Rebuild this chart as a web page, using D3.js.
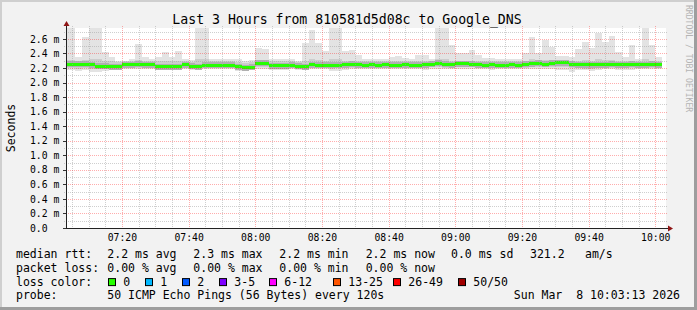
<!DOCTYPE html>
<html><head><meta charset="utf-8">
<script src="https://cdn.jsdelivr.net/npm/d3@7"></script>
<style>
html,body{margin:0;padding:0;background:#f2f2f2;}
svg{display:block;}
text{font-family:"DejaVu Sans Mono",monospace;fill:#000;}
</style>
</head><body>
<svg id="chart" width="697" height="310"></svg>
<script>
// ---------- data ----------
const title = "Last 3 Hours from 810581d5d08c to Google_DNS";
const yAxisTitle = "Seconds";
const watermark = "RRDTOOL / TOBI OETIKER";
const windowStart = "2026-03-08T07:03:13Z";
const windowEnd = "2026-03-08T10:03:13Z";
const firstStep = "2026-03-08T07:02:00Z";
const stepSeconds = 120;

const yTickValues = [0, 0.2, 0.4, 0.6, 0.8, 1.0, 1.2, 1.4, 1.6, 1.8, 2.0, 2.2, 2.4, 2.6];
const yTickLabels = ["0.0", "0.2 m", "0.4 m", "0.6 m", "0.8 m", "1.0 m", "1.2 m", "1.4 m", "1.6 m", "1.8 m", "2.0 m", "2.2 m", "2.4 m", "2.6 m"];
const xTickLabels = ["07:20", "07:40", "08:00", "08:20", "08:40", "09:00", "09:20", "09:40", "10:00"];

// ping RTT per 2-minute step, in ms
const pingMax = [
  2.90, 2.90, 2.35, 2.62, 2.90, 2.90, 2.42, 2.35, 2.30, 2.30,
  2.33, 2.53, 2.35, 2.32, 2.35, 2.42, 2.35, 2.43, 2.32, 2.31,
  2.90, 2.90, 2.32, 2.33, 2.33, 2.33, 2.32, 2.29, 2.31, 2.47,
  2.46, 2.33, 2.32, 2.33, 2.32, 2.29, 2.55, 2.72, 2.55, 2.43,
  2.90, 2.90, 2.43, 2.45, 2.38, 2.32, 2.32, 2.32, 2.32, 2.35,
  2.36, 2.34, 2.32, 2.38, 2.38, 2.32, 2.90, 2.90, 2.52, 2.41,
  2.41, 2.45, 2.38, 2.34, 2.34, 2.32, 2.32, 2.32, 2.32, 2.40,
  2.62, 2.40, 2.58, 2.49, 2.37, 2.37, 2.35, 2.46, 2.56, 2.47,
  2.68, 2.56, 2.64, 2.42, 2.35, 2.52, 2.33, 2.78, 2.52, 2.35
];
const pingHigh = [
  2.31, 2.31, 2.29, 2.31, 2.33, 2.33, 2.30, 2.29, 2.28, 2.29,
  2.29, 2.31, 2.29, 2.29, 2.29, 2.30, 2.29, 2.30, 2.29, 2.28,
  2.33, 2.32, 2.29, 2.29, 2.29, 2.29, 2.28, 2.27, 2.28, 2.31,
  2.31, 2.29, 2.29, 2.29, 2.29, 2.28, 2.30, 2.32, 2.31, 2.30,
  2.33, 2.32, 2.30, 2.30, 2.29, 2.29, 2.29, 2.29, 2.29, 2.29,
  2.29, 2.29, 2.29, 2.30, 2.30, 2.29, 2.33, 2.32, 2.30, 2.30,
  2.30, 2.30, 2.29, 2.29, 2.29, 2.29, 2.29, 2.29, 2.29, 2.30,
  2.32, 2.30, 2.31, 2.31, 2.30, 2.30, 2.29, 2.30, 2.31, 2.30,
  2.32, 2.31, 2.31, 2.30, 2.29, 2.30, 2.29, 2.32, 2.30, 2.29
];
const pingLow = [
  2.20, 2.20, 2.19, 2.20, 2.18, 2.18, 2.19, 2.19, 2.19, 2.20,
  2.20, 2.20, 2.20, 2.20, 2.19, 2.19, 2.19, 2.19, 2.20, 2.19,
  2.19, 2.20, 2.20, 2.20, 2.20, 2.20, 2.19, 2.18, 2.19, 2.21,
  2.21, 2.19, 2.19, 2.19, 2.20, 2.19, 2.19, 2.20, 2.20, 2.20,
  2.19, 2.20, 2.20, 2.20, 2.20, 2.20, 2.20, 2.20, 2.20, 2.20,
  2.20, 2.20, 2.20, 2.20, 2.20, 2.21, 2.21, 2.20, 2.20, 2.21,
  2.21, 2.21, 2.20, 2.20, 2.20, 2.20, 2.20, 2.20, 2.20, 2.20,
  2.21, 2.21, 2.21, 2.21, 2.21, 2.21, 2.20, 2.20, 2.19, 2.19,
  2.20, 2.20, 2.20, 2.20, 2.20, 2.20, 2.20, 2.20, 2.20, 2.20
];
const pingMin = [
  2.17, 2.17, 2.16, 2.17, 2.14, 2.14, 2.16, 2.17, 2.17, 2.18,
  2.18, 2.18, 2.18, 2.18, 2.17, 2.17, 2.17, 2.17, 2.18, 2.17,
  2.17, 2.18, 2.18, 2.18, 2.18, 2.18, 2.16, 2.16, 2.17, 2.18,
  2.18, 2.17, 2.17, 2.17, 2.18, 2.17, 2.17, 2.18, 2.18, 2.18,
  2.16, 2.16, 2.17, 2.18, 2.18, 2.18, 2.18, 2.18, 2.18, 2.18,
  2.18, 2.18, 2.18, 2.18, 2.17, 2.18, 2.18, 2.18, 2.18, 2.18,
  2.18, 2.18, 2.18, 2.18, 2.17, 2.18, 2.18, 2.18, 2.18, 2.18,
  2.18, 2.18, 2.18, 2.18, 2.17, 2.17, 2.15, 2.17, 2.17, 2.16,
  2.17, 2.18, 2.18, 2.17, 2.17, 2.17, 2.18, 2.18, 2.18, 2.18
];
const pingMedian = [
  2.250, 2.250, 2.250, 2.250, 2.245, 2.225, 2.225, 2.215, 2.215, 2.245,
  2.245, 2.250, 2.245, 2.245, 2.220, 2.220, 2.220, 2.220, 2.245, 2.225,
  2.220, 2.240, 2.240, 2.240, 2.240, 2.235, 2.215, 2.205, 2.210, 2.265,
  2.265, 2.230, 2.230, 2.230, 2.240, 2.225, 2.220, 2.245, 2.240, 2.240,
  2.235, 2.240, 2.245, 2.250, 2.245, 2.240, 2.245, 2.240, 2.245, 2.240,
  2.240, 2.245, 2.240, 2.240, 2.245, 2.255, 2.265, 2.250, 2.245, 2.260,
  2.260, 2.255, 2.245, 2.240, 2.245, 2.240, 2.240, 2.245, 2.240, 2.250,
  2.260, 2.265, 2.255, 2.265, 2.270, 2.270, 2.250, 2.245, 2.245, 2.245,
  2.245, 2.245, 2.250, 2.245, 2.245, 2.250, 2.245, 2.245, 2.250, 2.245
];

const legendRows = [
  {label: "median rtt:", items: ["2.2 ms avg", "2.3 ms max", "2.2 ms min", "2.2 ms now", "0.0 ms sd", "321.2", "am/s"]},
  {label: "packet loss:", items: ["0.00 % avg", "0.00 % max", "0.00 % min", "0.00 % now"]}
];
const lossLabels = ["0", "1", "2", "3-5", "6-12", "13-25", "26-49", "50/50"];
const lossColors = ["#26ff00", "#00b8ff", "#0059ff", "#7e00ff", "#ff00ff", "#ff5500", "#ff0000", "#a10000"];
const probeText = "50 ICMP Echo Pings (56 Bytes) every 120s";
const dateText = "Sun Mar  8 10:03:13 2026";

// ---------- layout ----------
const W = 697, H = 310;
const plot = {left: 66, right: 666, top: 28, bottom: 228};
const svg = d3.select("#chart");

const x = d3.scaleUtc().domain([new Date(windowStart), new Date(windowEnd)]).range([plot.left, plot.right]);
const y = d3.scaleLinear().domain([0, 2.75]).range([plot.bottom, plot.top]);

// background + border
svg.append("rect").attr("width", W).attr("height", H).attr("fill", "#f2f2f2");
svg.append("rect").attr("x", 0).attr("y", 0).attr("width", W).attr("height", 2).attr("fill", "#cfcfcf");
svg.append("rect").attr("x", 0).attr("y", 0).attr("width", 2).attr("height", H).attr("fill", "#cfcfcf");
svg.append("rect").attr("x", 0).attr("y", H - 3).attr("width", W).attr("height", 3).attr("fill", "#9e9e9e");
svg.append("rect").attr("x", W - 3).attr("y", 0).attr("width", 3).attr("height", H).attr("fill", "#9e9e9e");

// canvas
svg.append("rect").attr("x", plot.left).attr("y", plot.top)
  .attr("width", plot.right - plot.left).attr("height", plot.bottom - plot.top).attr("fill", "#ffffff");

svg.append("clipPath").attr("id", "clip").append("rect")
  .attr("x", plot.left).attr("y", plot.top)
  .attr("width", plot.right - plot.left).attr("height", plot.bottom - plot.top);

const g = svg.append("g").attr("clip-path", "url(#clip)").attr("shape-rendering", "crispEdges");
const t0 = new Date(firstStep).getTime();
const steps = pingMedian.map((m, i) => ({
  t: new Date(t0 + i * stepSeconds * 1000),
  t2: new Date(t0 + (i + 1) * stepSeconds * 1000),
  max: pingMax[i], hi: pingHigh[i], lo: pingLow[i], min: pingMin[i], med: m
}));
function band(lowKey, highKey, color) {
  g.append("g").selectAll("rect").data(steps).join("rect")
    .attr("x", d => Math.round(x(d.t)))
    .attr("width", d => Math.round(x(d.t2)) - Math.round(x(d.t)))
    .attr("y", d => y(d[highKey]))
    .attr("height", d => y(d[lowKey]) - y(d[highKey]))
    .attr("fill", color);
}
band("min", "max", "#e3e3e3");
band("lo", "hi", "#cdcdcd");
// dark core of the smoke around the median
g.append("g").selectAll("rect").data(steps).join("rect")
  .attr("x", d => Math.round(x(d.t)))
  .attr("width", d => Math.round(x(d.t2)) - Math.round(x(d.t)))
  .attr("y", d => Math.round(y(d.med) - 3))
  .attr("height", 6)
  .attr("fill", "#b0b0b0");
// median line coloured by loss (0 loss -> green)
g.append("g").selectAll("rect").data(steps).join("rect")
  .attr("x", d => Math.round(x(d.t)))
  .attr("width", d => Math.round(x(d.t2)) - Math.round(x(d.t)))
  .attr("y", d => Math.round(y(d.med) - 1.5))
  .attr("height", 3)
  .attr("fill", lossColors[0]);

// grid
const grid = svg.append("g").attr("shape-rendering", "crispEdges");
const minorY = d3.range(1, 28).map(v => v / 10);
grid.selectAll(".gyminor").data(minorY.filter((v, i) => i % 2 === 0)).join("line")
  .attr("x1", plot.left - 2).attr("x2", plot.right + 2)
  .attr("y1", d => Math.round(y(d)) + 0.5).attr("y2", d => Math.round(y(d)) + 0.5)
  .attr("stroke", "rgba(160,160,160,0.5)").attr("stroke-dasharray", "1,1");
const minorX = d3.utcMinute.every(5).range(new Date(windowStart), new Date(windowEnd));
grid.selectAll(".gxminor").data(minorX.filter(d => d.getUTCMinutes() % 20 !== 0)).join("line")
  .attr("y1", plot.top - 2).attr("y2", plot.bottom + 2)
  .attr("x1", d => Math.round(x(d)) + 0.5).attr("x2", d => Math.round(x(d)) + 0.5)
  .attr("stroke", "rgba(160,160,160,0.5)").attr("stroke-dasharray", "1,1");
grid.selectAll(".gymajor").data(yTickValues.slice(1)).join("line")
  .attr("x1", plot.left - 2).attr("x2", plot.right + 2)
  .attr("y1", d => Math.round(y(d)) + 0.5).attr("y2", d => Math.round(y(d)) + 0.5)
  .attr("stroke", "rgba(255,0,0,0.32)").attr("stroke-dasharray", "1,1");
const majorX = d3.utcMinute.every(20).range(new Date(windowStart), new Date(windowEnd));
grid.selectAll(".gxmajor").data(majorX).join("line")
  .attr("y1", plot.top - 2).attr("y2", plot.bottom + 2)
  .attr("x1", d => Math.round(x(d)) + 0.5).attr("x2", d => Math.round(x(d)) + 0.5)
  .attr("stroke", "rgba(255,0,0,0.32)").attr("stroke-dasharray", "1,1");

// y tick marks
grid.selectAll(".ytk").data(yTickValues).join("line")
  .attr("x1", plot.left - 3).attr("x2", plot.left)
  .attr("y1", d => Math.round(y(d)) + 0.5).attr("y2", d => Math.round(y(d)) + 0.5)
  .attr("stroke", "#333");

// axes
svg.append("line").attr("x1", plot.left + 0.5).attr("x2", plot.left + 0.5)
  .attr("y1", plot.top - 3).attr("y2", plot.bottom + 0.5).attr("stroke", "#222");
svg.append("line").attr("x1", plot.left).attr("x2", plot.right + 3)
  .attr("y1", plot.bottom + 0.5).attr("y2", plot.bottom + 0.5).attr("stroke", "#222");
svg.append("path").attr("d", `M${plot.left + 0.5},${plot.top - 7} L${plot.left - 2.5},${plot.top - 2} L${plot.left + 3.5},${plot.top - 2} Z`).attr("fill", "#8f1515");
svg.append("path").attr("d", `M${plot.right + 7},${plot.bottom + 0.5} L${plot.right + 2},${plot.bottom - 2.5} L${plot.right + 2},${plot.bottom + 3.5} Z`).attr("fill", "#8f1515");

// axis labels
svg.append("g").selectAll("text").data(yTickValues).join("text")
  .attr("x", 30).attr("y", d => y(d) + 3.6)
  .attr("font-size", "9.75px")
  .text((d, i) => yTickLabels[i]);
svg.append("g").selectAll("text").data(majorX).join("text")
  .attr("x", d => x(d) + 0.5).attr("y", 241)
  .attr("text-anchor", "middle").attr("font-size", "9.75px")
  .text((d, i) => xTickLabels[i]);

// title etc
svg.append("text").attr("x", 347).attr("y", 24).attr("text-anchor", "middle")
  .attr("font-size", "13.2px").text(title);
svg.append("text").attr("transform", "translate(15,128) rotate(-90)").attr("text-anchor", "middle")
  .attr("font-size", "11.5px").text(yAxisTitle);
svg.append("text").attr("transform", "translate(686,5) rotate(90)")
  .attr("font-size", "8.1px").style("fill", "#b4b4b4").text(watermark);

// legend
const fs = "11.5px";
const rowY = [258, 271.8, 285.6, 299.4];
const itemX = [[107.3, 193.3, 279.3, 365.7, 451, 530, 585], [107.3, 193.3, 279.3, 365.7]];
legendRows.forEach((r, ri) => {
  svg.append("text").attr("x", 16).attr("y", rowY[ri]).attr("font-size", fs).text(r.label);
  r.items.forEach((it, j) => {
    svg.append("text").attr("x", itemX[ri][j]).attr("y", rowY[ri]).attr("font-size", fs).text(it);
  });
});
svg.append("text").attr("x", 16).attr("y", rowY[2]).attr("font-size", fs).text("loss color:");
const boxX = [108.5, 145.5, 182.5, 219.5, 269.5, 333.5, 393.5, 458.5];
lossLabels.forEach((l, i) => {
  svg.append("rect").attr("x", boxX[i]).attr("y", rowY[2] - 7).attr("width", 7).attr("height", 7)
    .attr("fill", lossColors[i]).attr("stroke", "#000").attr("stroke-width", 1);
  svg.append("text").attr("x", boxX[i] + 14.8).attr("y", rowY[2]).attr("font-size", fs).text(l);
});
svg.append("text").attr("x", 16).attr("y", rowY[3]).attr("font-size", fs).text("probe:");
svg.append("text").attr("x", 107.3).attr("y", rowY[3]).attr("font-size", fs).text(probeText);
svg.append("text").attr("x", 680).attr("y", rowY[3]).attr("text-anchor", "end").attr("font-size", fs)
  .style("white-space", "pre").text(dateText);
</script>
</body></html>
